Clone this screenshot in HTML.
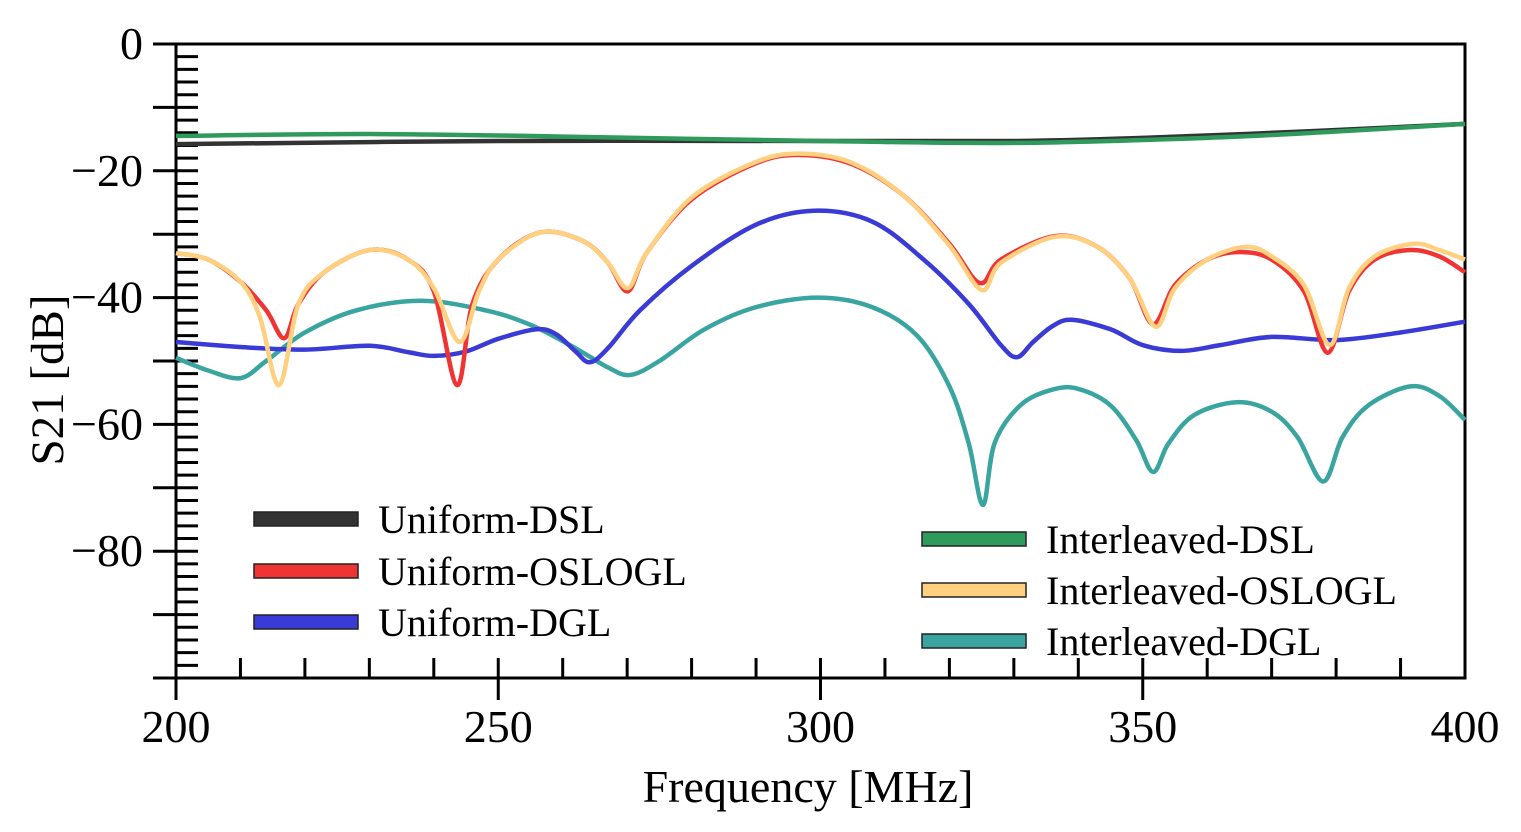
<!DOCTYPE html>
<html><head><meta charset="utf-8"><style>
html,body{margin:0;padding:0;background:#fff;}
svg{display:block;font-family:"Liberation Serif",serif;}
</style></head><body>
<svg id="chart" width="1521" height="832" viewBox="0 0 1521 832" xmlns="http://www.w3.org/2000/svg">
<g id="axes"></g>
<g id="series"></g>
<g id="legend"></g>
<text x="808" y="802" font-size="46" text-anchor="middle">Frequency [MHz]</text>
<text transform="translate(63,380) rotate(-90)" font-size="47" text-anchor="middle">S21 [dB]</text>
</svg>
<script>
const xTicks=[200,250,300,350,400];
const yTicks=[0,-20,-40,-60,-80];
const yTickLabels=["0","\u221220","\u221240","\u221260","\u221280"];
const seriesNames=["Uniform-DSL","Uniform-OSLOGL","Uniform-DGL","Interleaved-DSL","Interleaved-OSLOGL","Interleaved-DGL"];
const seriesColors=["#333333","#f03434","#3a3ad6","#2e9a5c","#ffd080","#3aa5a0"];
const fUDSL=[200,250,300,330,350,375,400];
const vUDSL=[-15.8,-15.3,-15.3,-15.3,-14.8,-13.8,-12.6];
const fIDSL=[200,230,260,300,330,360,380,400];
const vIDSL=[-14.5,-14.2,-14.6,-15.3,-15.6,-14.8,-13.8,-12.6];
const fUO=[200,205,210,214,216.8,219,223,230,236,240,243.6,246,250,256.5,263,267,270.1,273,280,290,297,305,313,320,324.7,328,336.4,343,348,351.6,355,360,365,370,375,378.7,382,386,391.5,396,400];
const vUO=[-33,-34,-37.5,-42,-46.4,-41,-36,-32.5,-34,-39,-53.8,-41,-34,-29.7,-31,-34.5,-39,-33,-24.5,-18.8,-17.5,-19,-24,-31.5,-37.7,-34,-30.3,-32,-37,-44.2,-38,-34,-32.8,-34,-39,-48.7,-39,-34,-32.5,-33.5,-36];
const fIO=[200,205,210,213,216,219,223,230,236,240,244,247,250,256.5,263,267,270.1,273,280,290,297,305,313,320,325,328,336.4,343,348,352,355,360,366,370,375,379,382,386,392,396,400];
const vIO=[-33,-34,-37.5,-43,-53.8,-41,-36,-32.5,-34,-38.5,-47,-39,-34,-29.7,-31,-34.5,-38.5,-33,-24.2,-18.6,-17.3,-18.8,-24,-31.8,-38.8,-34.5,-30.4,-32,-37,-44.6,-38.5,-34,-32,-33.5,-38,-47.5,-38.5,-33.5,-31.5,-32.5,-34];
const fUD=[200,210,220,230,236,240,245,250,256,259,262,264.2,267,272,280,290,299,308,316,323,328,330.5,333,336,339,345,350,356,362,370,380,390,400];
const vUD=[-47,-47.8,-48.2,-47.6,-48.6,-49.2,-48.5,-46.5,-45,-45.8,-48.5,-50.2,-48,-42,-35,-28.5,-26.3,-28,-34,-41,-47.5,-49.4,-47,-44.5,-43.5,-45,-47.5,-48.4,-47.5,-46.2,-46.7,-45.5,-43.8];
const fID=[200,205,210,214,220,228,238,248,255,262,267,270.5,275,282,290,299.6,308,315,320,323,325.2,327,331,336,340,345,349,351.6,354,358,364.6,370,374,378,381,385,391.5,396,400];
const vID=[-49.5,-51.5,-52.7,-50,-45.5,-42,-40.5,-42,-44.3,-48,-51,-52.2,-50,-45,-41.5,-40,-41.5,-46,-54,-63,-72.7,-63,-57,-54.5,-54.4,-57,-62.5,-67.5,-63,-58.5,-56.5,-58,-62,-69,-62,-57,-54,-55.5,-59.3];

const X0=176,X1=1465,Y0=44,Y1=678;
function xs(f){return X0+(f-200)/200*(X1-X0);}
function ys(v){return Y0+(0-v)/100*(Y1-Y0);}
const NS="http://www.w3.org/2000/svg";
function mk(tag,attrs,parent){const e=document.createElementNS(NS,tag);for(const k in attrs)e.setAttribute(k,attrs[k]);parent.appendChild(e);return e;}
const axes=document.getElementById('axes');
let fr=mk('path',{d:`M${X0-23},${Y0}H${X1}V${Y1}H${X0-23}M${X0},${Y0}V${Y1+22}`,fill:'none',stroke:'#000','stroke-width':3},axes);


for(let v=0;v>=-100;v-=2){
  if(v%10===0&&v!==0&&v!==-100){let t=mk('line',{x1:X0-23,x2:X0,y1:ys(v),y2:ys(v),stroke:'#000','stroke-width':3},axes);
    }
  if(v!==0&&v!==-100){let t=mk('line',{x1:X0,x2:X0+22,y1:ys(v),y2:ys(v),stroke:'#000','stroke-width':3},axes);
    }
}
for(let f=210;f<400;f+=10){
  let major=f%50===0;
  let t=mk('line',{x1:xs(f),x2:xs(f),y1:Y1-20,y2:major?Y1+22:Y1,stroke:'#000','stroke-width':3},axes);
  
}
xTicks.forEach(f=>{let t=mk('text',{x:xs(f),y:742,'font-size':46,'text-anchor':'middle'},axes);t.textContent=f;
  });
yTicks.forEach((v,i)=>{let t=mk('text',{x:143,y:ys(v)+15,'font-size':46,'text-anchor':'end'},axes);t.textContent=yTickLabels[i];
  });
const sg=document.getElementById('series');
function pathFor(fa,va){
  const p=fa.map((f,i)=>[xs(f),ys(va[i])]);
  let d=`M${p[0][0]},${p[0][1]}`;
  for(let i=0;i<p.length-1;i++){
    const a=p[Math.max(0,i-1)],b=p[i],c=p[i+1],e=p[Math.min(p.length-1,i+2)];
    const c1=[b[0]+(c[0]-a[0])/6,b[1]+(c[1]-a[1])/6],c2=[c[0]-(e[0]-b[0])/6,c[1]-(e[1]-b[1])/6];
    d+=`C${c1[0]},${c1[1]} ${c2[0]},${c2[1]} ${c[0]},${c[1]}`;
  }
  return d;
}
const order=[[fID,vID,5],[fUD,vUD,2],[fUO,vUO,1],[fIO,vIO,4],[fUDSL,vUDSL,0],[fIDSL,vIDSL,3]];
order.forEach(([fa,va,k])=>{
  let p=mk('path',{d:pathFor(fa,va),fill:'none',stroke:seriesColors[k],'stroke-width':4.5,'stroke-linejoin':'round'},sg);
  
  
});
const lg=document.getElementById('legend');
const legPos=[[254,519],[254,571],[254,622],[922,539],[922,590],[922,641]];
seriesNames.forEach((n,k)=>{
  const [lx,ly]=legPos[k];
  let g=mk('g',{},lg);
  
  
  mk('rect',{x:lx,y:ly-7,width:104,height:14,fill:seriesColors[k],stroke:'#222','stroke-width':1.5},g);
  let t=mk('text',{x:lx+124,y:ly+14,'font-size':40},g);t.textContent=n;
});
</script>
</body></html>
